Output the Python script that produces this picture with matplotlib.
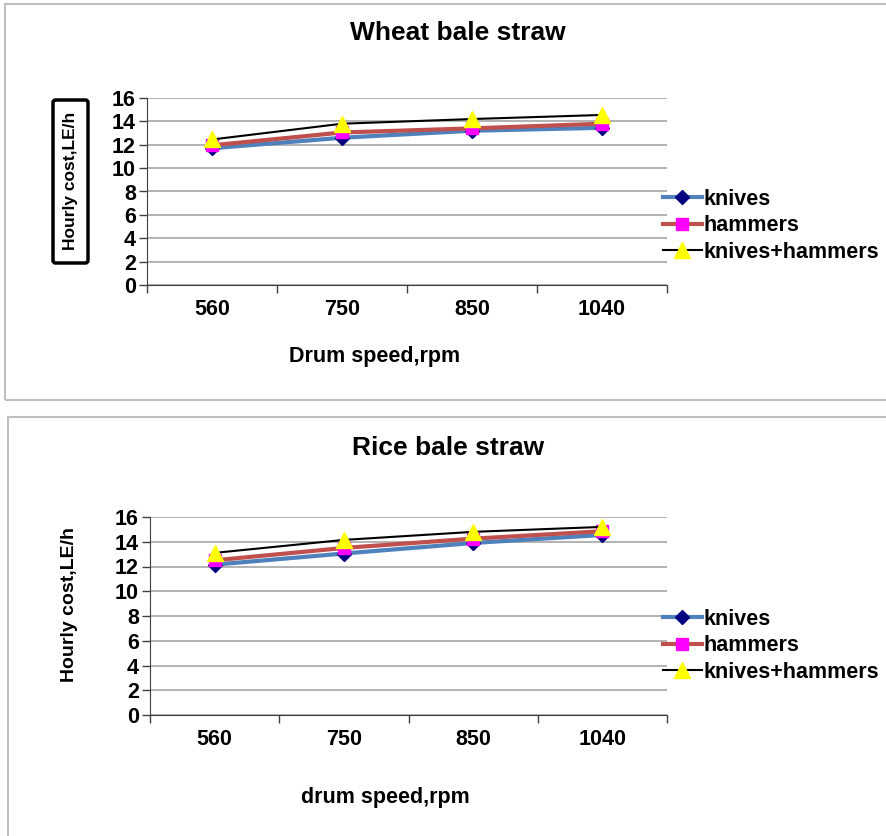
import numpy as np
import matplotlib
matplotlib.use("Agg")
import matplotlib.pyplot as plt
from matplotlib.patches import Rectangle, FancyBboxPatch

plt.rcParams['font.family'] = ['Liberation Sans', 'DejaVu Sans']
plt.rcParams['font.weight'] = 'bold'

speeds = ['560', '750', '850', '1040']
series_names = ['knives', 'hammers', 'knives+hammers']

wheat_knives = [11.7, 12.6, 13.2, 13.45]
wheat_hammers = [11.95, 13.05, 13.4, 13.8]
wheat_both = [12.45, 13.8, 14.2, 14.55]

rice_knives = [12.15, 13.05, 13.9, 14.55]
rice_hammers = [12.5, 13.5, 14.25, 14.85]
rice_both = [13.1, 14.15, 14.8, 15.2]

W, H = 887, 836
fig = plt.figure(figsize=(W / 100, H / 100), dpi=100)


def fx(px):
    return px / W


def fy(py):
    return 1 - py / H


# panel frames (right edge runs off the picture)
fig.patches.append(Rectangle((fx(5), fy(400)), fx(920 - 5), fy(4) - fy(400),
                             transform=fig.transFigure, fill=False,
                             edgecolor='#BFBFBF', linewidth=1.5))
fig.patches.append(Rectangle((fx(8.5), fy(880)), fx(920 - 8.5), fy(417) - fy(880),
                             transform=fig.transFigure, fill=False,
                             edgecolor='#BFBFBF', linewidth=1.5))


def draw_panel(rect, knives, hammers, both, title, title_xy, xlabel, xlabel_xy,
               ylabel_xy, ylabel_size, boxed, legend_xy):
    ax = fig.add_axes(rect)
    x = np.arange(len(speeds))
    ax.plot(x, knives, color='#4F81BD', linewidth=3, marker='D', markersize=7,
            markerfacecolor='#000080', markeredgecolor='#000080', label=series_names[0], zorder=3)
    ax.plot(x, hammers, color='#C0504D', linewidth=3, marker='s', markersize=9,
            markerfacecolor='#FF00FF', markeredgecolor='#FF00FF', label=series_names[1], zorder=4)
    ax.plot(x, both, color='black', linewidth=1.5, marker='^', markersize=11,
            markerfacecolor='#FFFF00', markeredgecolor='#FFFF00', label=series_names[2], zorder=5)
    ax.set_xlim(-0.5, len(speeds) - 0.5)
    ax.set_ylim(0, 16)
    ax.set_yticks(np.arange(0, 17, 2))
    ax.set_xticks(x)
    ax.set_xticklabels(speeds)
    ax.set_xticks(np.arange(-0.5, len(speeds), 1), minor=True)
    ax.tick_params(axis='x', which='major', length=0, pad=10, labelsize=15.5)
    ax.tick_params(axis='x', which='minor', length=6, width=1, direction='out', color='#404040')
    ax.tick_params(axis='y', length=6, width=1, direction='out', labelsize=15.5, pad=2, color='#404040')
    for lab in ax.get_xticklabels() + ax.get_yticklabels():
        lab.set_fontweight('bold')
    ax.yaxis.grid(True, color='#A6A6A6', linewidth=1.2)
    ax.set_axisbelow(True)
    ax.spines['top'].set_visible(False)
    ax.spines['right'].set_visible(False)
    ax.spines['left'].set_color('#404040')
    ax.spines['bottom'].set_color('#404040')
    fig.text(fx(title_xy[0]), fy(title_xy[1]), title, ha='center', va='center',
             fontsize=19, fontweight='bold')
    fig.text(fx(xlabel_xy[0]), fy(xlabel_xy[1]), xlabel, ha='center', va='center',
             fontsize=15.5, fontweight='bold')
    fig.text(fx(ylabel_xy[0]), fy(ylabel_xy[1]), 'Hourly cost,LE/h', ha='center',
             va='center', rotation=90, fontsize=ylabel_size, fontweight='bold')
    if boxed:
        fig.patches.append(FancyBboxPatch((fx(53), fy(263)), fx(88 - 53), fy(100) - fy(263),
                                          boxstyle='round,pad=0,rounding_size=0.003',
                                          transform=fig.transFigure, fill=False,
                                          edgecolor='black', linewidth=2.5))
    ax.legend(loc='upper left', bbox_to_anchor=(fx(legend_xy[0]), fy(legend_xy[1])),
              bbox_transform=fig.transFigure, frameon=False,
              handlelength=1.8, handletextpad=0.1, labelspacing=0.25,
              borderpad=0, borderaxespad=0, prop={'weight': 'bold', 'size': 15.5})
    return ax


draw_panel([fx(147), fy(285), fx(667 - 147), fy(98) - fy(285)],
           wheat_knives, wheat_hammers, wheat_both,
           'Wheat bale straw', (458, 33), 'Drum speed,rpm', (375, 357),
           (70, 181), 12.5, True, (663, 189))

draw_panel([fx(150), fy(715), fx(667 - 150), fy(517) - fy(715)],
           rice_knives, rice_hammers, rice_both,
           'Rice bale straw', (448, 448), 'drum speed,rpm', (385, 797),
           (70, 605), 14, False, (663, 609))

fig.savefig('out.png', dpi=100)
